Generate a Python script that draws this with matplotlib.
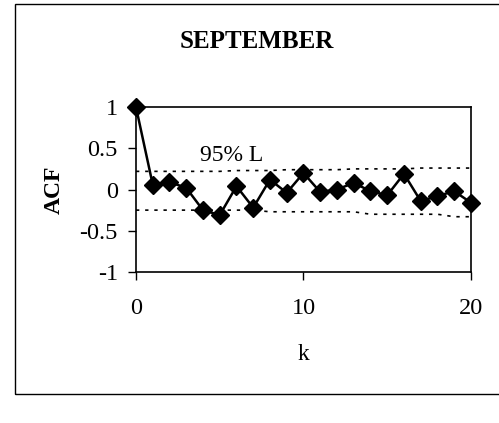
import matplotlib
matplotlib.use("Agg")
import matplotlib.pyplot as plt
from matplotlib.patches import Rectangle

# lag, autocorrelation and 95% limits
lags = list(range(0, 21))
acf = [1.0, 0.06, 0.09, 0.02, -0.25, -0.31, 0.04, -0.22, 0.12, -0.04, 0.20,
       -0.03, 0.0, 0.08, -0.02, -0.07, 0.19, -0.14, -0.08, -0.02, -0.16]
upper = [0.22, 0.22, 0.22, 0.22, 0.22, 0.22, 0.23, 0.23, 0.23, 0.24, 0.24,
         0.24, 0.24, 0.25, 0.25, 0.25, 0.25, 0.26, 0.26, 0.26, 0.26]
lower = [-0.25, -0.25, -0.25, -0.25, -0.25, -0.25, -0.25, -0.25, -0.27, -0.27, -0.27,
         -0.27, -0.27, -0.27, -0.30, -0.30, -0.30, -0.30, -0.30, -0.33, -0.33]

plt.rcParams['font.family'] = ['Liberation Serif', 'DejaVu Serif']

fig = plt.figure(figsize=(4.99, 4.23), dpi=100)
ax = fig.add_axes([0.2725, 0.357, 0.6713, 0.390])

# outer chart frame
fig.patches.append(Rectangle((15 / 499, 1 - 394 / 423), 1.2, 390 / 423,
                             transform=fig.transFigure, fill=False,
                             edgecolor='black', linewidth=1))

ax.plot(lags, upper, color='black', linewidth=1.2, dashes=(2, 3.5))
ax.plot(lags, lower, color='black', linewidth=1.2, dashes=(2, 3.5))
ax.plot(lags, acf, color='black', linewidth=1.8, marker='D', markersize=9,
        clip_on=False, zorder=5)

ax.set_xlim(0, 20)
ax.set_ylim(-1, 1)
ax.set_xticks([0, 10, 20])
ax.set_yticks([-1, -0.5, 0, 0.5, 1])
ax.set_yticklabels(['-1', '-0.5', '0', '0.5', '1'])
ax.tick_params(direction='out', length=6, width=1, labelsize=17.5)
ax.tick_params(axis='x', pad=13)
ax.tick_params(axis='y', pad=7)
for s in ax.spines.values():
    s.set_linewidth(1.2)

ax.text(5.7, 0.41, '95% L', fontsize=17, ha='center', va='center')
ax.set_xlabel('k', fontsize=17, labelpad=18)
ax.set_ylabel('ACF', fontsize=17, fontweight='bold', labelpad=11)
fig.text(257 / 499, 1 - 42 / 423, 'SEPTEMBER', fontsize=18, fontweight='bold',
         ha='center', va='center')

fig.savefig('out.png', dpi=100)
